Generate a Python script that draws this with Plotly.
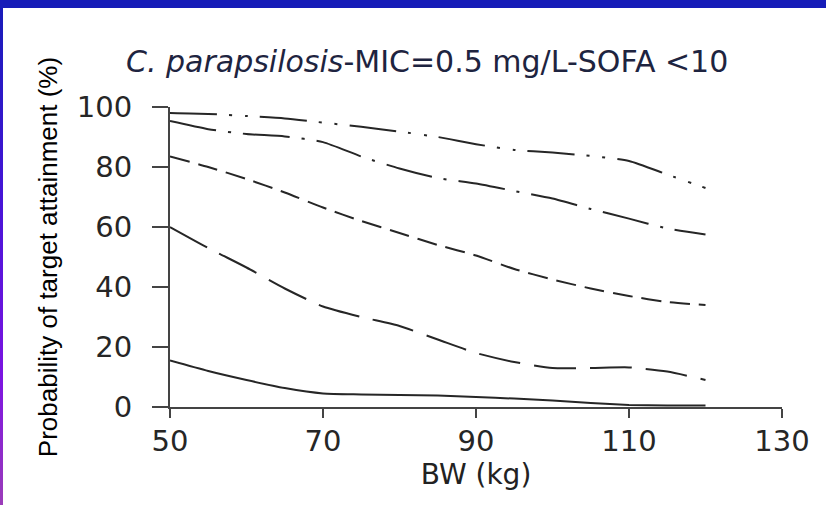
import plotly.graph_objects as go

# ---- data ----
bw = [50, 55, 60, 65, 70, 75, 80, 85, 90, 95, 100, 105, 110, 115, 120]
pta_solid = [15.5, 12.0, 9.0, 6.3, 4.5, 4.2, 4.0, 3.8, 3.3, 2.8, 2.2, 1.3, 0.7, 0.5, 0.5]
pta_longdash = [60.0, 53.0, 46.5, 39.5, 33.5, 30.0, 27.0, 22.5, 18.0, 15.0, 13.0, 13.0, 13.2, 11.8, 9.0]
pta_dash = [83.5, 80.0, 76.0, 71.5, 66.5, 62.0, 58.0, 54.0, 50.5, 46.0, 42.5, 39.5, 37.0, 35.0, 34.0]
pta_dashdot = [95.3, 92.6, 91.0, 90.2, 88.3, 83.5, 79.5, 76.3, 74.5, 72.0, 69.5, 66.0, 62.8, 59.5, 57.5]
pta_dashdotdot = [98.0, 97.7, 97.0, 96.2, 94.8, 93.4, 91.8, 90.0, 87.6, 85.7, 84.8, 83.7, 82.0, 77.5, 73.0]

x_ticks = [50, 70, 90, 110, 130]
y_ticks = [0, 20, 40, 60, 80, 100]

title_text = "<i>C. parapsilosis</i>-MIC=0.5 mg/L-SOFA &lt;10"
x_title = "BW (kg)"
y_title = "Probability of target attainment (%)"

series = [
    (pta_solid, "solid"),
    (pta_longdash, "42px,14px"),
    (pta_dash, "20px,9px"),
    (pta_dashdot, "47px,12px,3px,12px"),
    (pta_dashdotdot, "47px,12px,3px,13px,3px,12px"),
]

# ---- layout geometry (pixels) ----
W, H = 826, 505
L, R, T, B = 170, 44, 107, 98
PW, PH = W - L - R, H - T - B


def px_x(px):
    return (px - L) / PW


def px_y(py):
    return (H - B - py) / PH


fig = go.Figure()
for ys, dash in series:
    fig.add_trace(go.Scatter(
        x=bw, y=ys, mode="lines", line=dict(color="#262626", width=2, dash=dash, shape="spline", smoothing=0.6),
        showlegend=False, hoverinfo="skip"))

tick_font = dict(family="DejaVu Sans", size=29, color="#262626")

fig.update_xaxes(
    range=[50, 130], tickvals=x_ticks, ticks="outside", ticklen=9, tickwidth=2, tickcolor="#444",
    showline=True, linecolor="#444", linewidth=2, showgrid=False, zeroline=False,
    tickfont=tick_font, ticklabelstandoff=-2,
    title=dict(text=x_title, font=dict(family="DejaVu Sans", size=28, color="#222"), standoff=0),
)
fig.update_yaxes(
    range=[0, 100], tickvals=y_ticks, ticks="outside", ticklen=16, tickwidth=2, tickcolor="#444",
    showline=True, linecolor="#444", linewidth=2, showgrid=False, zeroline=False,
    tickfont=tick_font, ticklabelstandoff=14,
    title=dict(text=y_title, font=dict(family="Liberation Sans, Arial", size=26, color="#000"), standoff=12),
)

shapes = [dict(type="rect", xref="paper", yref="paper", x0=px_x(0), x1=px_x(W), y0=px_y(8), y1=px_y(0),
               fillcolor="#161cb8", line=dict(width=0), layer="above")]


def lerp(c1, c2, t):
    return tuple(int(round(a + (b - a) * t)) for a, b in zip(c1, c2))


stops = [(0, (22, 28, 184)), (200, (70, 20, 215)), (380, (125, 20, 225)), (505, (155, 60, 185))]
seg = 10
for y0 in range(0, H, seg):
    yc = y0 + seg / 2
    for (ya, ca), (yb, cb) in zip(stops[:-1], stops[1:]):
        if ya <= yc <= yb:
            c = lerp(ca, cb, (yc - ya) / (yb - ya))
            break
    shapes.append(dict(type="rect", xref="paper", yref="paper", x0=px_x(0), x1=px_x(3),
                       y0=px_y(min(y0 + seg, H)), y1=px_y(y0),
                       fillcolor="rgb(%d,%d,%d)" % c, line=dict(width=0), layer="above"))

fig.update_layout(
    width=W, height=H, margin=dict(l=L, r=R, t=T, b=B),
    paper_bgcolor="white", plot_bgcolor="white",
    shapes=shapes,
    annotations=[dict(text=title_text, xref="paper", yref="paper", x=px_x(124), y=px_y(61),
                      xanchor="left", yanchor="middle", showarrow=False,
                      font=dict(family="DejaVu Sans", size=30, color="#1e2440"))],
)

fig.write_html("out.html")
